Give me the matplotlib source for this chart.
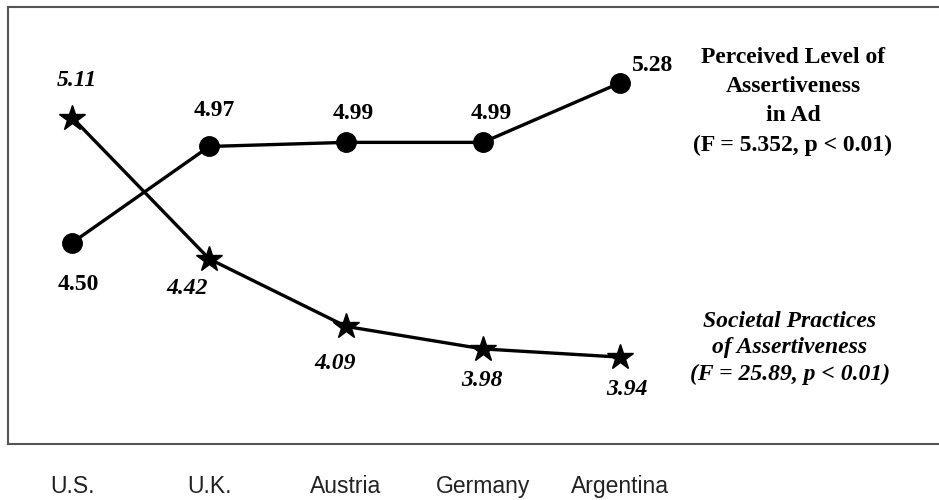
import numpy             as np
import matplotlib.pyplot as plt


# Chart data
countries   = ['U.S.', 'U.K.', 'Austria', 'Germany', 'Argentina']
perceived   = [4.50, 4.97, 4.99, 4.99, 5.28]
societal    = [5.11, 4.42, 4.09, 3.98, 3.94]
perc_text   = 'Perceived Level of\nAssertiveness\nin Ad\n(F = 5.352, p < 0.01)'
soc_text    = 'Societal Practices\nof Assertiveness\n(F = 25.89, p < 0.01)'

# Label offsets (points) for each value label
perc_offset = [(4, -30), (4, 26), (5, 21), (6, 21), (24, 13)]
soc_offset  = [(3, 27), (-16, -21), (-8, -27), (-1, -23), (5, -23)]

serif = 'Liberation Serif'
sans  = 'Liberation Sans'

fig = plt.figure(figsize=(9.39, 5.0), dpi=100)
ax  = fig.add_axes([8 / 939, 56 / 500, 940 / 939, 437 / 500])

x = np.arange(len(countries))
#       Plot the two series
ax.plot(x, perceived, color='black', lw=2.4, marker='o', ms=14,
        solid_capstyle='round')
ax.plot(x, societal, color='black', lw=2.4, marker='*', ms=19,
        solid_capstyle='round')

#       Value labels
for xi, val, off in zip(x, perceived, perc_offset):
    ax.annotate('{:.2f}'.format(val), (xi, val), xytext=off,
                textcoords='offset points', ha='center', va='center',
                fontsize=17, fontweight='bold', family=serif)
for xi, val, off in zip(x, societal, soc_offset):
    ax.annotate('{:.2f}'.format(val), (xi, val), xytext=off,
                textcoords='offset points', ha='center', va='center',
                fontsize=17, fontweight='bold', fontstyle='italic',
                family=serif)

#       Series descriptions
ax.text(5.267, 5.19, perc_text, ha='center', va='center', fontsize=17,
        fontweight='bold', family=serif, linespacing=1.5)
ax.text(5.245, 3.985, soc_text, ha='center', va='center', fontsize=17,
        fontweight='bold', fontstyle='italic', family=serif,
        linespacing=1.36)

#       Axes styling
ax.set_xlim(-0.471, 6.40)
ax.set_ylim(3.515, 5.652)
ax.set_yticks([])
ax.set_xticks(x)
ax.set_xticklabels(countries, fontsize=16.5, family=sans, color='#222222')
ax.tick_params(axis='x', length=0, pad=22)
for side in ax.spines:
    ax.spines[side].set_color('#555555')
    ax.spines[side].set_linewidth(1.5)

fig.savefig('out.png', dpi=100)
